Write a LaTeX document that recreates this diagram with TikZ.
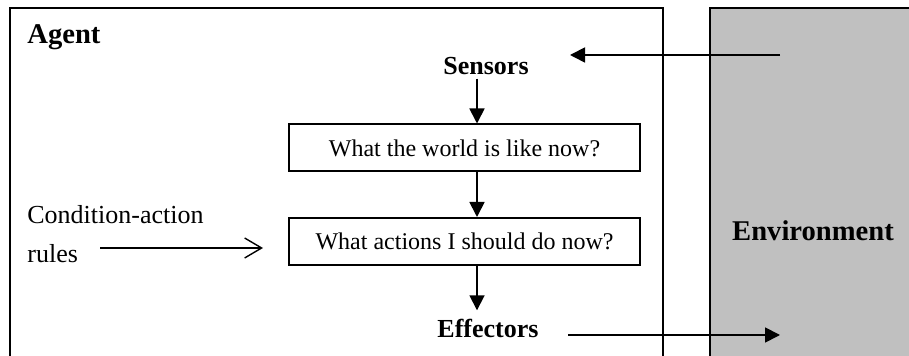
\documentclass[tikz,border=0pt]{standalone}
\usepackage{fontspec}
\setmainfont{Liberation Serif}
\usetikzlibrary{arrows.meta, positioning}

\definecolor{envgray}{HTML}{C0C0C0}

\tikzset{
  frame/.style={line width=1pt},
  rulebox/.style={draw, line width=1pt, minimum width=175.5pt, minimum height=23.5pt,
    inner sep=0pt, font=\fontsize{12}{14}\selectfont},
  heading/.style={inner sep=1.5pt, font=\fontsize{13}{15}\selectfont\bfseries},
  arr/.style={line width=0.9pt, -{Triangle[length=7.5pt, width=7.5pt]}},
  openarr/.style={line width=0.9pt, -{Straight Barb[length=8.5pt, width=10pt, line width=0.7pt]}}
}

\begin{document}
\begin{tikzpicture}[x=0.5pt, y=-0.5pt]

  \clip (0,0) rectangle (909,356);

  % Agent frame
  \draw[frame] (10,8) rectangle (663,380);
  \node[anchor=base west, inner sep=0pt, font=\fontsize{14.3}{17}\selectfont\bfseries]
    (agent) at (27,44) {Agent};

  % Environment
  \filldraw[frame, fill=envgray] (710,8) rectangle (930,380);
  \node[anchor=base, inner sep=0pt, font=\fontsize{14.3}{17}\selectfont\bfseries]
    (env) at (813,241) {Environment};

  % Sensors and effectors
  \node[heading, anchor=base] (sensors) at (486,75) {Sensors};
  \node[heading, anchor=base] (effectors) at (488,338) {Effectors};

  % Rule boxes
  \node[rulebox] (world) at (464.5,148) {What the world is like now?};
  \node[rulebox] (action) at (464.5,241.5) {What actions I should do now?};

  % Condition-action rules
  \node[anchor=north west, align=left, inner sep=0pt, font=\fontsize{13}{19.5}\selectfont]
    (rules) at (27,205) {Condition-action\\rules};

  % Inner flow
  \coordinate (spine) at (477,0);
  \draw[arr] (sensors.south -| spine) -- (world.north -| spine);
  \draw[arr] (world.south -| spine) -- (action.north -| spine);
  \draw[arr, shorten >=3pt] (action.south -| spine) -- (effectors.north -| spine);

  \coordinate (rulesout) at (100,248);
  \coordinate (rulestip) at (263,248);
  \draw[openarr] (rulesout) -- (rulestip);

  % Percepts and actions
  \coordinate (percept) at (780,55);
  \coordinate (sensetip) at (570,55);
  \draw[arr] (percept) -- (sensetip);

  \coordinate (actout) at (568,335);
  \coordinate (acttip) at (780,335);
  \draw[arr] (actout) -- (acttip);
\end{tikzpicture}
\end{document}
